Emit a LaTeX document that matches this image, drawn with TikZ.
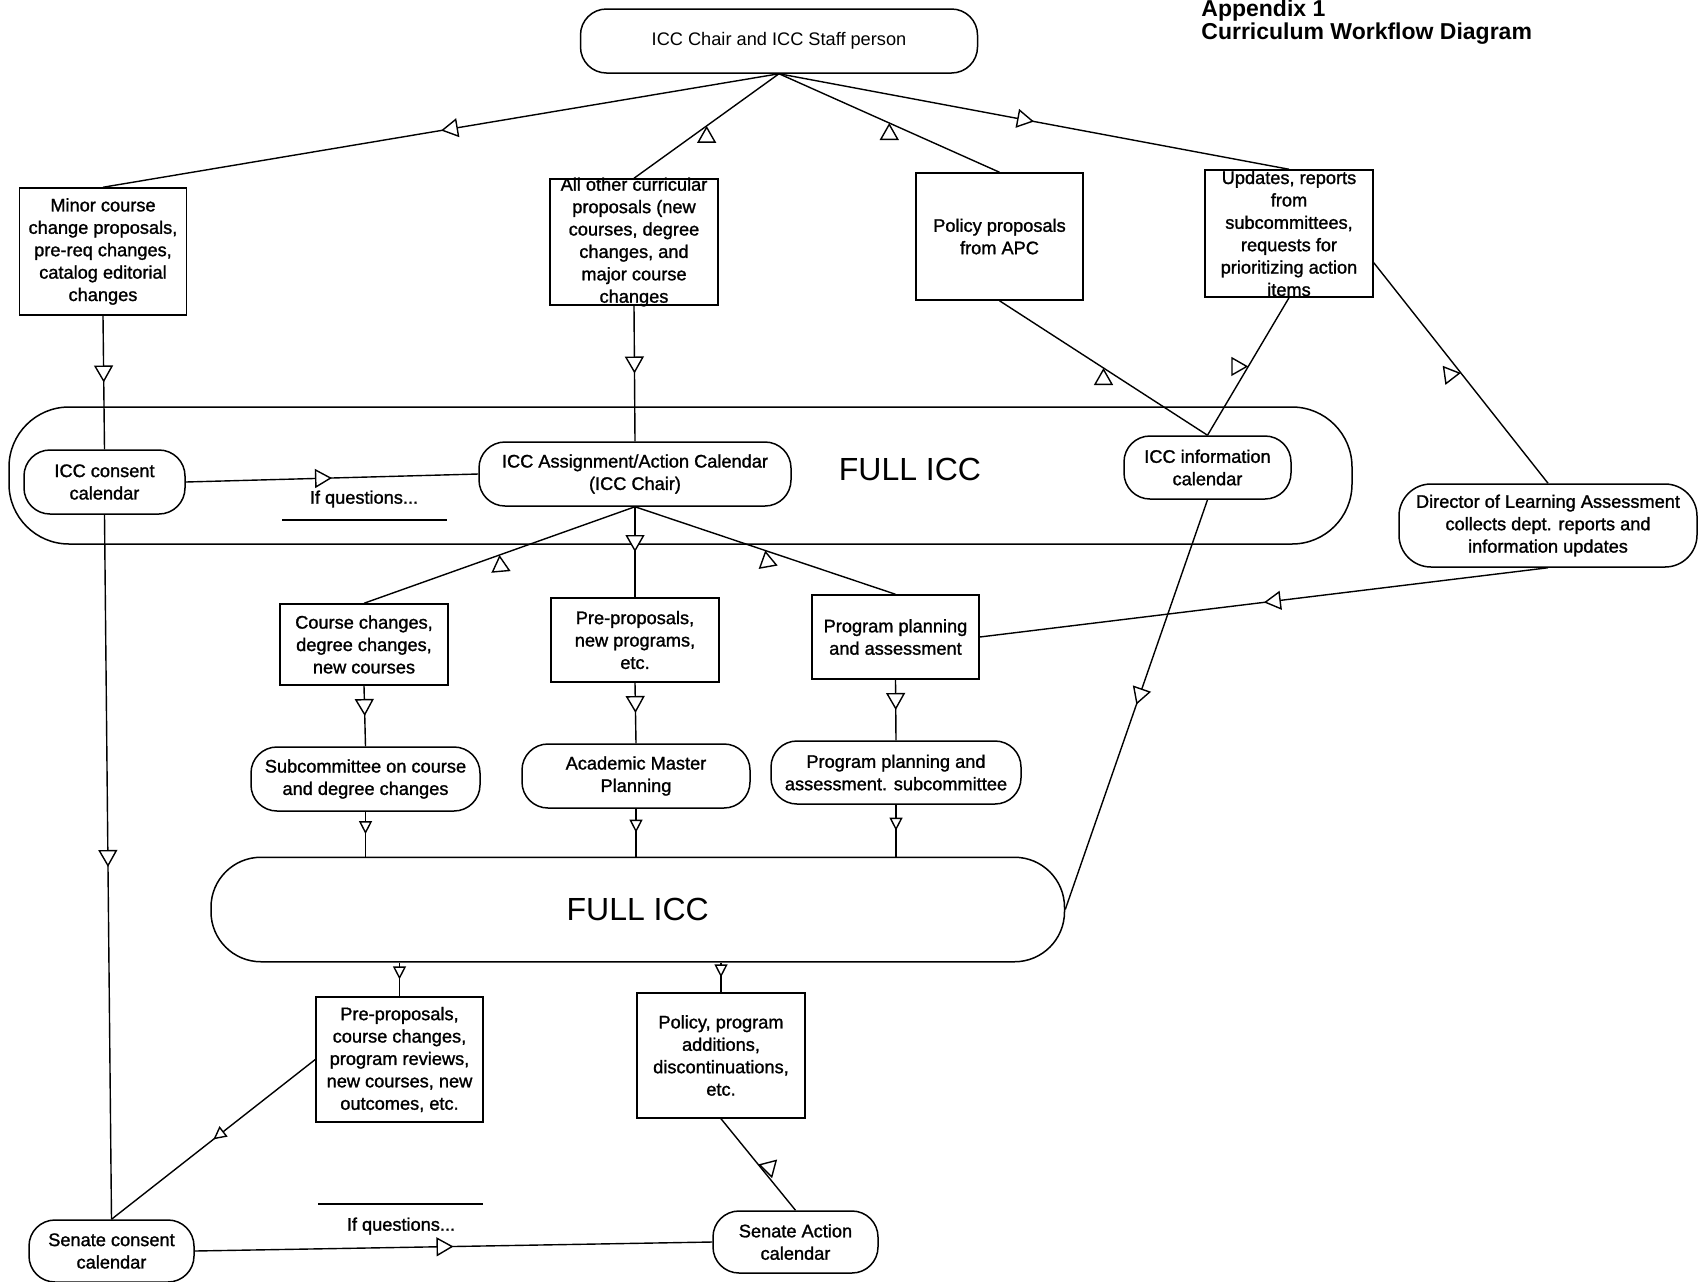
\documentclass[tikz,border=0pt]{standalone}
\usepackage{fontspec}
\setmainfont{Liberation Sans}
\newfontfamily\scanfont{Liberation Sans}[BoldFont={Liberation Sans},BoldFeatures={FakeBold=1.3}]
\usetikzlibrary{arrows.meta,decorations.markings}
\tikzset{
  bigT/.tip={Triangle[fill=white,length=8.5pt,width=9.5pt,line width=0.7pt]},
  smlT/.tip={Triangle[fill=white,length=6.5pt,width=6.5pt,line width=0.7pt]},
  every node/.style={font=\fontsize{9.1}{11.2}\selectfont\scanfont\bfseries, align=center, inner sep=1pt},
  box/.style={draw, line width=0.75pt, rectangle},
  stad/.style={draw, line width=0.75pt, rounded corners=13pt},
  band/.style={draw, line width=0.75pt},
  conn/.style={line width=0.7pt},
  mid/.style={postaction={decorate}, decoration={markings, mark=at position .5 with {\arrow{bigT}}}},
  mids/.style={postaction={decorate}, decoration={markings, mark=at position .5 with {\arrow{smlT}}}},
  rot/.style={postaction={decorate}, decoration={markings, mark=at position .5 with {\pgftransformresetnontranslations\pgftransformrotate{#1}\arrow{bigT}}}},
  bigtxt/.style={font=\fontsize{16}{18}\selectfont\mdseries},
  thin/.style={font=\fontsize{9.1}{11.2}\selectfont\mdseries},
  ttl/.style={font=\fontsize{11.5}{13}\selectfont\bfseries, anchor=base west, inner sep=0pt},
}
\begin{document}
\begin{tikzpicture}[x=0.5pt,y=-0.5pt]
\useasboundingbox (0,0) rectangle (1698,1281);
% title
\node[ttl] (app) at (1201,16) {Appendix 1};
\node[ttl] (cwd) at (1201,39.5) {Curriculum Workflow Diagram};
% bands
\node[band, rounded corners=30pt, minimum width=671.5pt, minimum height=68.5pt] (band1) at (680.5,475.5) {};
\node[bigtxt] (full1) at (910,469) {FULL ICC};
\node[band, rounded corners=25pt, minimum width=426.75pt, minimum height=52.25pt, bigtxt] (band2) at (637.75,909.5) {FULL ICC};
% top
\node[stad, thin, minimum width=198.5pt, minimum height=32pt] (chair) at (779,41) {ICC Chair and ICC Staff person};
% row 1
\node[box, minimum width=83.5pt, minimum height=63.5pt] (minor) at (103,251.5) {Minor course\\change proposals,\\pre-req changes,\\catalog editorial\\changes};
\node[box, minimum width=84pt, minimum height=63pt] (allother) at (634,242) {};
\node (allotherT) at (allother.center) {All other curricular\\proposals (new\\courses, degree\\changes, and\\major course\\changes};
\node[box, minimum width=83.5pt, minimum height=63.5pt] (policy) at (999.5,236.5) {Policy proposals\\from APC};
\node[box, minimum width=84pt, minimum height=63.5pt] (updates) at (1289,233.5) {};
\node (updatesT) at (updates.center) {Updates, reports\\from\\subcommittees,\\requests for\\prioritizing action\\items};
% band 1 contents
\node[stad, minimum width=80.5pt, minimum height=32pt] (consent) at (104.5,482) {ICC consent\\calendar};
\node[stad, minimum width=156pt, minimum height=32pt] (assign) at (635,474) {ICC Assignment/Action Calendar\\(ICC Chair)};
\node[stad, minimum width=83.5pt, minimum height=31.5pt] (info) at (1207.5,467.5) {ICC information\\calendar};
\node[stad, rounded corners=16pt, minimum width=149pt, minimum height=41.5pt] (director) at (1548,525.5) {Director of Learning Assessment\\collects dept. reports and\\information updates};
\node (q1) at (364,499) {If questions...};
\draw[conn] (282,520) -- (447,520);
% row 2
\node[box, minimum width=84pt, minimum height=40.5pt] (course) at (364,644.5) {Course changes,\\degree changes,\\new courses};
\node[box, minimum width=84pt, minimum height=42pt] (newprog) at (635,640) {Pre-proposals,\\new programs,\\etc.};
\node[box, minimum width=83.5pt, minimum height=42pt] (ppbox) at (895.5,637) {Program planning\\and assessment};
% row 3
\node[stad, minimum width=114.5pt, minimum height=32pt] (subc) at (365.5,779) {Subcommittee on course\\and degree changes};
\node[stad, minimum width=114pt, minimum height=32pt] (amp) at (636,776) {Academic Master\\Planning};
\node[stad, minimum width=125pt, minimum height=31.5pt] (ppsub) at (896,772.5) {Program planning and\\assessment. subcommittee};
% row 4
\node[box, minimum width=83.5pt, minimum height=62.5pt] (preprop) at (399.5,1059.5) {Pre-proposals,\\course changes,\\program reviews,\\new courses, new\\outcomes, etc.};
\node[box, minimum width=84pt, minimum height=62.5pt] (polprog) at (721,1055.5) {Policy, program\\additions,\\discontinuations,\\etc.};
% senate
\node[stad, minimum width=82.5pt, minimum height=31pt] (sconsent) at (111.5,1251) {Senate consent\\calendar};
\node[stad, minimum width=82.5pt, minimum height=31pt] (saction) at (795.5,1242) {Senate Action\\calendar};
\node (q2) at (401,1226) {If questions...};
\draw[conn] (318,1204) -- (483,1204);
% connectors top fan
\draw[conn, mid] (chair.south) -- (minor.north);
\draw[conn, rot=90] (chair.south) -- (allother.north);
\draw[conn, rot=90] (chair.south) -- (policy.north);
\draw[conn, mid] (chair.south) -- (updates.north);
% row1 down
\draw[conn, mid] (minor.south) -- (consent.north);
\draw[conn, mid] (allother.south) -- (assign.north);
\draw[conn, rot=90] (policy.south) -- (info.north);
\draw[conn, rot=0] (updates.south) -- (info.north);
\draw[conn, rot=8] (updates.-19) -- (director.north);
\draw[conn, mid] (director.south) -- (ppbox.east);
\draw[conn, mid] (consent.east) -- (assign.west);
\draw[conn, mid] (consent.south) -- (sconsent.north);
\draw[conn, mid] (info.south) -- (band2.east);
% assignment fan
\draw[conn, rot=95] (assign.south) -- (course.north);
\draw[conn, mid] (assign.south) -- (newprog.north);
\draw[conn, rot=100] (assign.south) -- (ppbox.north);
% row2 -> row3
\draw[conn, mid] (course.south) -- (subc.north);
\draw[conn, mid] (newprog.south) -- (amp.north);
\draw[conn, mid] (ppbox.south) -- (ppsub.north);
% row3 -> band2
\draw[conn, mids] (subc.south) -- (subc.south |- band2.north);
\draw[conn, mids] (amp.south) -- (amp.south |- band2.north);
\draw[conn, mids] (ppsub.south) -- (ppsub.south |- band2.north);
% band2 -> row4
\draw[conn, mids] (preprop.north |- band2.south) -- (preprop.north);
\draw[conn, mids] (polprog.north |- band2.south) -- (polprog.north);
% row4 -> senate
\draw[conn, mids] (preprop.west) -- (sconsent.north);
\draw[conn, rot=165] (polprog.south) -- (saction.north);
\draw[conn, mid] (sconsent.east) -- (saction.west);
\end{tikzpicture}
\end{document}
